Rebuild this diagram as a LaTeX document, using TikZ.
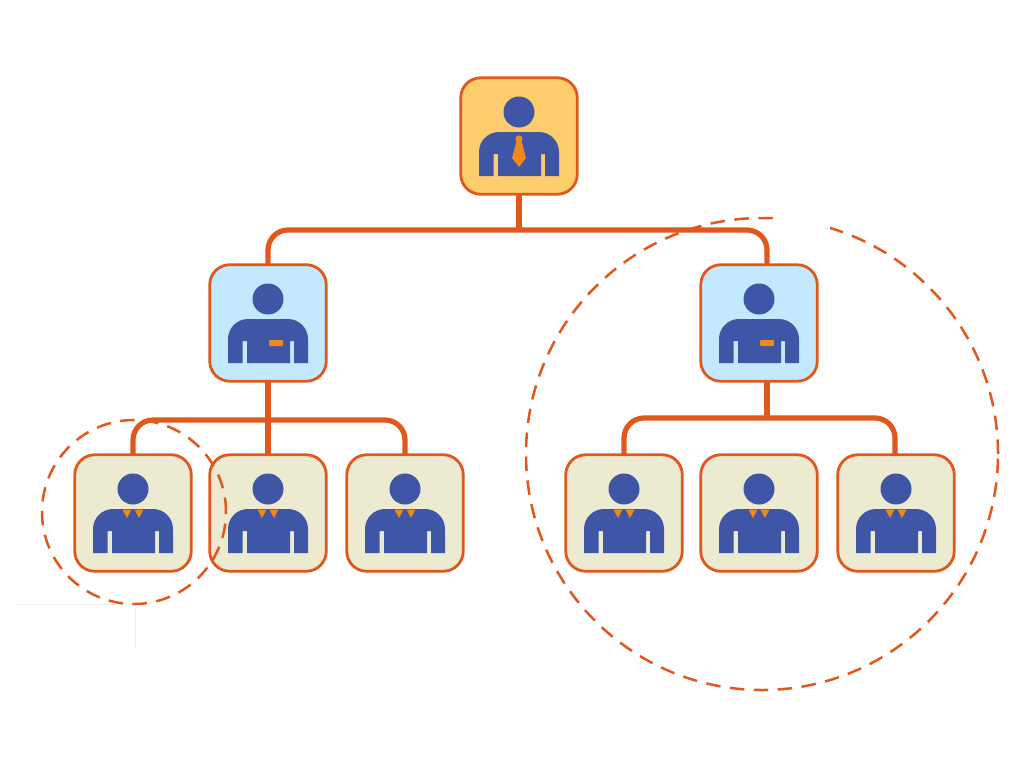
\documentclass[tikz,border=0pt]{standalone}
\definecolor{edgeor}{HTML}{E2581C}
\definecolor{goldfill}{HTML}{FBCD6C}
\definecolor{bluefill}{HTML}{C2E9FD}
\definecolor{beigefill}{HTML}{ECEAD0}
\definecolor{bodyblue}{HTML}{3F55A5}
\definecolor{accent}{HTML}{EE8A1D}
\tikzset{
  card/.style={draw=edgeor,line width=2.8pt,rounded corners=20pt,minimum width=116.5pt,minimum height=116.5pt,inner sep=0pt,outer sep=0pt},
  boss/.style={card,fill=goldfill},
  lead/.style={card,fill=bluefill},
  staff/.style={card,fill=beigefill},
  conn/.style={draw=edgeor,line width=5.2pt,rounded corners=20pt},
  ring/.style={draw=edgeor,line width=2.5pt,dash pattern=on 14.5pt off 9.5pt},
  artefact/.style={draw=black!6,line width=0.8pt}
}
% #1 node name: person drawn relative to node centre
\newcommand{\personshape}[1]{%
  \begin{scope}[shift={(#1.center)}]
    \fill[bodyblue] (0,-24) circle (15.5);
    \fill[bodyblue] (-40,40) -- (-40,16) arc (180:270:20) -- (20,-4) arc (270:360:20) -- (40,40) -- (26,40) -- (26,18) -- (22,18) -- (22,40) -- (-21,40) -- (-21,18) -- (-25.5,18) -- (-25.5,40) -- cycle;
  \end{scope}}
\newcommand{\collar}[1]{%
  \begin{scope}[shift={(#1.center)}]
    \fill[accent] (-10.5,-3.5) -- (-1.5,-3.5) -- (-6,5) -- cycle;
    \fill[accent] (1.5,-3.5) -- (10.5,-3.5) -- (6,5) -- cycle;
  \end{scope}}
\newcommand{\badge}[1]{%
  \begin{scope}[shift={(#1.center)}]
    \fill[accent,rounded corners=1pt] (1,17) rectangle (15,23);
  \end{scope}}
\newcommand{\tie}[1]{%
  \begin{scope}[shift={(#1.center)}]
    \fill[accent] (0,3) circle (3.6);
    \fill[accent] (-2.5,5) -- (2.5,5) -- (7,22) -- (0,31) -- (-7,22) -- cycle;
  \end{scope}}
\begin{document}
\begin{tikzpicture}[x=1pt,y=-1pt]
  \useasboundingbox (0,0) rectangle (1024,768);
  \fill[white] (0,0) rectangle (1024,768);
  % faint scan marks
  \coordinate (fa) at (15,604); \coordinate (fb) at (135,604); \coordinate (fc) at (135,648);
  \draw[artefact] (fa) -- (fb) -- (fc);
  % bus points
  \coordinate (busT) at (519,230);
  \coordinate (busL) at (268,230);
  \coordinate (busR) at (767,230);
  \coordinate (lbusT) at (268,420);
  \coordinate (lbusL) at (133,420);
  \coordinate (lbusR) at (405,420);
  \coordinate (rbusT) at (767,418);
  \coordinate (rbusL) at (624,418);
  \coordinate (rbusR) at (895,418);
  % cards
  \node[boss] (top) at (519,136) {};
  \node[lead] (ml) at (268,323) {};
  \node[lead] (mr) at (759,323) {};
  \node[staff] (s1) at (133,513) {};
  \node[staff] (s2) at (268,513) {};
  \node[staff] (s3) at (405,513) {};
  \node[staff] (s4) at (624,513) {};
  \node[staff] (s5) at (759,513) {};
  \node[staff] (s6) at (896,513) {};
  % connectors
  \coordinate (mrtop) at (767,264.7);
  \coordinate (mrbot) at (767,381.3);
  \coordinate (s6top) at (895,454.7);
  \draw[conn] (top.south) -- (busT);
  \draw[conn] (ml.north) -- (busL) -- (busR) -- (mrtop);
  \draw[conn] (ml.south) -- (lbusT);
  \draw[conn] (s1.north) -- (lbusL) -- (lbusR) -- (s3.north);
  \draw[conn] (lbusT) -- (s2.north);
  \draw[conn] (mrbot) -- (rbusT);
  \draw[conn] (s4.north) -- (rbusL) -- (rbusR) -- (s6top);
  % people
  \foreach \n in {top,ml,mr,s1,s2,s3,s4,s5,s6}{\personshape{\n}}
  \tie{top}
  \badge{ml}\badge{mr}
  \foreach \n in {s1,s2,s3,s4,s5,s6}{\collar{\n}}
  % rings
  \node[ring,circle,minimum size=184pt,inner sep=0pt] (ringA) at (134,512) {};
  \node[ring,circle,minimum size=472pt,inner sep=0pt] (ringB) at (762,454) {};
  % washed-out stretch of the large ring
  \fill[white] (778,212) rectangle (830,232);
\end{tikzpicture}
\end{document}
